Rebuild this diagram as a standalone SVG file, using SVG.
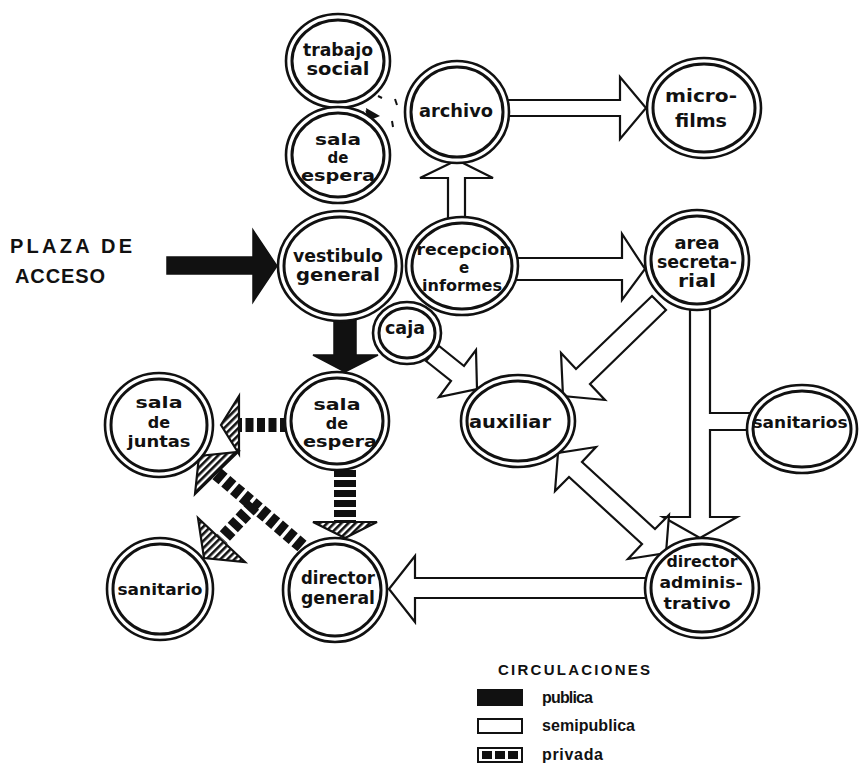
<svg xmlns="http://www.w3.org/2000/svg" width="859" height="770" viewBox="0 0 859 770">
  <style>
    .bg { fill: #ffffff; }
    .ro { fill: #ffffff; stroke: #111; stroke-width: 2.6; }
    .ri { fill: none; stroke: #111; stroke-width: 3; }
    .lbl { font-family: "DejaVu Sans", "Liberation Sans", sans-serif; font-weight: 700; fill: #111; text-anchor: middle; font-size: 18px; }
    .sm { font-size: 16px; }
    .xs { font-size: 15px; }
    .pub { fill: #111; stroke: #111; stroke-width: 1.5; stroke-linejoin: miter; }
    .semi { fill: #ffffff; stroke: #111; stroke-width: 2.2; stroke-linejoin: miter; }
    .priv { fill: none; stroke: #111; stroke-width: 14; stroke-dasharray: 8 3.5; }
    .privhead { fill: url(#hatch); stroke: #111; stroke-width: 2.2; stroke-linejoin: miter; }
    .title { font-family: "Liberation Sans", Arial, sans-serif; font-weight: 700; fill: #111; font-size: 20px; }
    .leg { font-family: "Liberation Sans", Arial, sans-serif; font-weight: 700; fill: #111; font-size: 16px; }
  </style>
  <defs>
    <pattern id="hatch" patternUnits="userSpaceOnUse" width="5" height="5" patternTransform="rotate(45)">
      <rect width="5" height="5" fill="#ffffff"/>
      <rect width="2.6" height="5" fill="#111"/>
    </pattern>
  </defs>

  <rect class="bg" x="0" y="0" width="859" height="770"/>

  <!-- entrance label -->
  <text class="title" x="10" y="253" textLength="122">PLAZA DE</text>
  <text class="title" x="15" y="283" textLength="90">ACCESO</text>

  <g id="connectors">
    <!-- public circulation -->
    <polygon class="pub" points="167,257 253,257 253,230 277,266 253,302 253,274 167,274"/>
    <polygon class="pub" points="334,318 356,318 356,355 378,355 345,372 313,355 334,355"/>

    <!-- semi-public circulation -->
    <polygon class="semi" points="448,220 448,178 420,178 457,160 493,178 465,178 465,220"/>
    <polygon class="semi" points="505,100 620,100 620,77 646,108 620,139 620,116 505,116"/>
    <polygon class="semi" points="514,258 622,258 622,234 645,269 622,300 622,280 514,280"/>
    <polygon class="semi" points="666,310 590,384 605,400 563,396 561,353 576,369 652,296"/>
    <polygon class="semi" points="690,305 710,305 710,413 750,413 750,430 710,430 710,517 737,517 700,538 663,517 690,517"/>
    <polygon class="semi" points="558,453 555,491 569,477 642,544 628,559 666,553 669,515 655,529 582,462 596,447"/>
    <polygon class="semi" points="650,578 415,578 415,556 389,589 415,622 415,598 650,598"/>
    <polygon class="semi" points="426,361 451,381 439,397 477,389 476,350 464,366 439,346"/>

    <!-- private circulation -->
    <line class="priv" x1="288" y1="425" x2="239" y2="425"/>
    <polygon class="privhead" points="239,396 239,454 221,425"/>
    <line class="priv" x1="345" y1="470" x2="345" y2="522" style="stroke-width:22;stroke-dasharray:7 3"/>
    <polygon class="privhead" points="313,522 377,522 345,538"/>
    <line class="priv" x1="302" y1="546" x2="216" y2="473"/>
    <polygon class="privhead" points="195,494 238,452 199,456"/>
    <line class="priv" x1="254" y1="505" x2="222" y2="539"/>
    <polygon class="privhead" points="198,518 245,562 204,558"/>

    <!-- small link between waiting room and archive -->
    <line x1="352" y1="118" x2="368" y2="113" stroke="#111" stroke-width="6" stroke-dasharray="3 2"/>
    <polygon points="366,108 380,116 368,121" fill="#111"/>
    <line x1="378" y1="96" x2="382" y2="98" stroke="#111" stroke-width="2"/>
    <line x1="395" y1="99" x2="397" y2="105" stroke="#111" stroke-width="2"/>
    <line x1="392" y1="121" x2="393" y2="127" stroke="#111" stroke-width="2"/>
  </g>

  <g id="trabajo-social">
    <ellipse class="ro" cx="338" cy="61" rx="52" ry="47"/>
    <ellipse class="ri" cx="338" cy="61" rx="46" ry="41"/>
    <text class="lbl" x="338" y="56" textLength="70" lengthAdjust="spacingAndGlyphs">trabajo</text>
    <text class="lbl" x="338" y="75" textLength="63" lengthAdjust="spacingAndGlyphs">social</text>
  </g>

  <g id="sala-espera-1">
    <ellipse class="ro" cx="338" cy="155" rx="52" ry="48"/>
    <ellipse class="ri" cx="338" cy="155" rx="46" ry="42"/>
    <text class="lbl xs" x="338" y="145" textLength="46" lengthAdjust="spacingAndGlyphs">sala</text>
    <text class="lbl xs" x="338" y="163">de</text>
    <text class="lbl xs" x="338" y="181" textLength="74" lengthAdjust="spacingAndGlyphs">espera</text>
  </g>

  <g id="archivo">
    <ellipse class="ro" cx="457" cy="112" rx="52" ry="51"/>
    <ellipse class="ri" cx="457" cy="112" rx="46" ry="45"/>
    <text class="lbl" x="456" y="117" textLength="74" lengthAdjust="spacingAndGlyphs">archivo</text>
  </g>

  <g id="microfilms">
    <ellipse class="ro" cx="704" cy="108" rx="57" ry="50"/>
    <ellipse class="ri" cx="704" cy="108" rx="51" ry="44"/>
    <text class="lbl" x="701" y="102" textLength="72" lengthAdjust="spacingAndGlyphs">micro-</text>
    <text class="lbl" x="701" y="127" textLength="52" lengthAdjust="spacingAndGlyphs">films</text>
  </g>

  <g id="vestibulo-general">
    <ellipse class="ro" cx="340" cy="266" rx="62" ry="55"/>
    <ellipse class="ri" cx="340" cy="266" rx="56" ry="49"/>
    <text class="lbl" x="338" y="262" textLength="90" lengthAdjust="spacingAndGlyphs">vestibulo</text>
    <text class="lbl" x="338" y="281" textLength="84" lengthAdjust="spacingAndGlyphs">general</text>
  </g>

  <g id="recepcion-informes">
    <ellipse class="ro" cx="462" cy="266" rx="56" ry="49"/>
    <ellipse class="ri" cx="462" cy="266" rx="50" ry="43"/>
    <text class="lbl xs" x="464" y="255" textLength="95" lengthAdjust="spacingAndGlyphs">recepcion</text>
    <text class="lbl xs" x="464" y="273">e</text>
    <text class="lbl xs" x="462" y="291" textLength="80" lengthAdjust="spacingAndGlyphs">informes</text>
  </g>

  <g id="area-secretarial">
    <ellipse class="ro" cx="697" cy="260" rx="52" ry="50"/>
    <ellipse class="ri" cx="697" cy="260" rx="46" ry="44"/>
    <text class="lbl" x="697" y="249" textLength="45" lengthAdjust="spacingAndGlyphs">area</text>
    <text class="lbl" x="697" y="268" textLength="80" lengthAdjust="spacingAndGlyphs">secreta-</text>
    <text class="lbl" x="697" y="287" textLength="38" lengthAdjust="spacingAndGlyphs">rial</text>
  </g>

  <g id="caja">
    <ellipse class="ro" cx="407" cy="333" rx="34" ry="31"/>
    <ellipse class="ri" cx="407" cy="333" rx="28" ry="25"/>
    <text class="lbl" x="405" y="334" textLength="40" lengthAdjust="spacingAndGlyphs">caja</text>
  </g>

  <g id="sala-espera-2">
    <ellipse class="ro" cx="337" cy="421" rx="52" ry="49"/>
    <ellipse class="ri" cx="337" cy="421" rx="46" ry="43"/>
    <text class="lbl sm" x="337" y="410" textLength="47" lengthAdjust="spacingAndGlyphs">sala</text>
    <text class="lbl sm" x="337" y="429">de</text>
    <text class="lbl sm" x="340" y="447" textLength="74" lengthAdjust="spacingAndGlyphs">espera</text>
  </g>

  <g id="sala-juntas">
    <ellipse class="ro" cx="159" cy="425" rx="54" ry="52"/>
    <ellipse class="ri" cx="159" cy="425" rx="48" ry="46"/>
    <text class="lbl sm" x="159" y="408" textLength="47" lengthAdjust="spacingAndGlyphs">sala</text>
    <text class="lbl sm" x="159" y="428">de</text>
    <text class="lbl sm" x="159" y="447" textLength="63" lengthAdjust="spacingAndGlyphs">juntas</text>
  </g>

  <g id="auxiliar">
    <ellipse class="ro" cx="518" cy="421" rx="57" ry="46"/>
    <ellipse class="ri" cx="518" cy="421" rx="51" ry="40"/>
    <text class="lbl" x="510" y="428" textLength="82" lengthAdjust="spacingAndGlyphs">auxiliar</text>
  </g>

  <g id="sanitarios">
    <ellipse class="ro" cx="802" cy="429" rx="55" ry="44"/>
    <ellipse class="ri" cx="802" cy="429" rx="49" ry="38"/>
    <text class="lbl sm" x="800" y="428" textLength="95" lengthAdjust="spacingAndGlyphs">sanitarios</text>
  </g>

  <g id="sanitario">
    <ellipse class="ro" cx="160" cy="589" rx="53" ry="51"/>
    <ellipse class="ri" cx="160" cy="589" rx="47" ry="45"/>
    <text class="lbl sm" x="160" y="595" textLength="85" lengthAdjust="spacingAndGlyphs">sanitario</text>
  </g>

  <g id="director-general">
    <ellipse class="ro" cx="335" cy="590" rx="52" ry="52"/>
    <ellipse class="ri" cx="335" cy="590" rx="46" ry="46"/>
    <text class="lbl" x="338" y="584" textLength="74" lengthAdjust="spacingAndGlyphs">director</text>
    <text class="lbl" x="338" y="604" textLength="74" lengthAdjust="spacingAndGlyphs">general</text>
  </g>

  <g id="director-administrativo">
    <ellipse class="ro" cx="702" cy="588" rx="57" ry="50"/>
    <ellipse class="ri" cx="702" cy="588" rx="51" ry="44"/>
    <text class="lbl sm" x="702" y="567" textLength="71" lengthAdjust="spacingAndGlyphs">director</text>
    <text class="lbl sm" x="701" y="588" textLength="83" lengthAdjust="spacingAndGlyphs">adminis-</text>
    <text class="lbl sm" x="697" y="609" textLength="67" lengthAdjust="spacingAndGlyphs">trativo</text>
  </g>

  <g id="legend">
    <text class="leg" x="498" y="675" textLength="152" style="font-size:15px">CIRCULACIONES</text>
    <rect x="478" y="690" width="44" height="15" fill="#111" stroke="#111" stroke-width="2"/>
    <text class="leg" x="542" y="703" textLength="51">publica</text>
    <rect x="478" y="719" width="44" height="14" fill="#fff" stroke="#111" stroke-width="2"/>
    <text class="leg" x="542" y="731" textLength="93">semipublica</text>
    <rect x="478" y="748" width="44" height="14" fill="#fff" stroke="#111" stroke-width="2"/>
    <rect x="482" y="751" width="10" height="8" fill="#111"/>
    <rect x="495" y="751" width="10" height="8" fill="#111"/>
    <rect x="508" y="751" width="10" height="8" fill="#111"/>
    <text class="leg" x="542" y="760" textLength="61">privada</text>
  </g>
</svg>
